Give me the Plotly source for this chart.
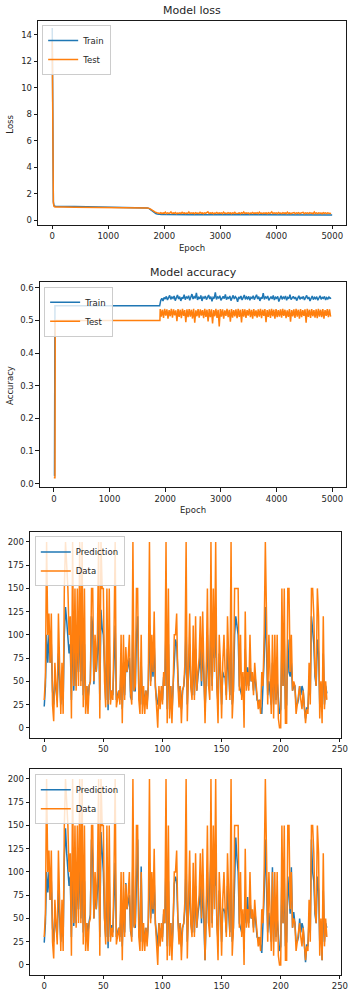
import plotly.graph_objects as go

# ---------------- data ----------------
# Model loss (coarse readings before the noisy plateau)
loss_train_epochs = [0, 5, 10, 15, 20, 30, 40, 60, 100, 200, 400, 600, 800, 1000, 1200, 1400, 1500,
                     1600, 1650, 1700, 1725, 1750, 1775, 1800, 1825, 1850, 1875, 1900, 1950, 2000,
                     2100, 2200, 2500, 3000, 3500, 4000, 4500, 4999]
loss_train = [14.5, 9.0, 4.5, 2.2, 1.4, 1.1, 1.05, 1.04, 1.03, 1.02, 1.02, 1.01, 1.0, 1.0, 0.99, 0.98, 0.97,
              0.96, 0.95, 0.92, 0.88, 0.80, 0.70, 0.60, 0.53, 0.49, 0.46, 0.44, 0.43, 0.42,
              0.41, 0.41, 0.40, 0.40, 0.40, 0.39, 0.39, 0.39]

loss_test_head_epochs = [0, 5, 10, 15, 20, 30, 40, 60, 100, 200, 400, 600, 800, 1000, 1200, 1400,
                         1500, 1600, 1650, 1700, 1750, 1800, 1840, 1870, 1885]
loss_test_head = [13.5, 8.0, 4.0, 2.0, 1.3, 1.05, 1.0, 0.99, 0.98, 0.98, 0.97, 0.97, 0.97, 0.96, 0.96, 0.96,
                  0.95, 0.95, 0.94, 0.92, 0.85, 0.70, 0.60, 0.56, 0.54]
loss_test_noise = [0.53, 0.50, 0.56, 0.49, 0.54, 0.51, 0.60, 0.48, 0.55, 0.50,
                   0.53, 0.62, 0.49, 0.54, 0.51, 0.57, 0.48, 0.53, 0.50, 0.55,
                   0.49, 0.58, 0.51, 0.54, 0.48, 0.53, 0.50, 0.61, 0.49, 0.55,
                   0.51, 0.54, 0.48, 0.56, 0.50, 0.53, 0.49, 0.59, 0.51, 0.54,
                   0.48, 0.55, 0.50, 0.53, 0.62, 0.49, 0.54, 0.51, 0.56, 0.48,
                   0.53, 0.50, 0.57, 0.49, 0.54, 0.51, 0.55, 0.48, 0.60, 0.50,
                   0.53, 0.49, 0.56, 0.51, 0.54, 0.48, 0.55, 0.50, 0.58, 0.49,
                   0.53, 0.51, 0.54, 0.48, 0.56, 0.50, 0.61, 0.49, 0.54, 0.51,
                   0.55, 0.48, 0.53, 0.50, 0.57, 0.49, 0.54, 0.51, 0.56, 0.48,
                   0.59, 0.50, 0.53, 0.49, 0.55, 0.51, 0.54, 0.48, 0.56, 0.50,
                   0.53, 0.62, 0.49, 0.54, 0.51, 0.55, 0.48, 0.57, 0.50, 0.53,
                   0.49, 0.56, 0.51, 0.54, 0.48, 0.60, 0.50, 0.55, 0.49, 0.53,
                   0.51, 0.57, 0.48, 0.54, 0.50, 0.56, 0.49, 0.53, 0.51, 0.58,
                   0.48, 0.55, 0.50, 0.54, 0.49, 0.56, 0.51, 0.53, 0.48, 0.61,
                   0.50, 0.54, 0.49, 0.55, 0.51, 0.53, 0.48, 0.56, 0.50, 0.54,
                   0.49, 0.55, 0.51, 0.53, 0.50]
loss_test_noise_epochs = list(range(1900, 1900 + 20 * len(loss_test_noise), 20))

# Model accuracy
acc_train_head_epochs = [0, 12, 20, 1000, 1900]
acc_train_head = [0.025, 0.025, 0.545, 0.545, 0.545]
acc_train_noise = [0.562, 0.568, 0.560, 0.571, 0.566, 0.574, 0.563, 0.570, 0.577, 0.565,
                   0.572, 0.568, 0.575, 0.561, 0.569, 0.578, 0.566, 0.573, 0.560, 0.571,
                   0.567, 0.579, 0.564, 0.572, 0.569, 0.576, 0.562, 0.570, 0.581, 0.566,
                   0.573, 0.568, 0.585, 0.563, 0.571, 0.567, 0.577, 0.560, 0.572, 0.569,
                   0.575, 0.564, 0.570, 0.578, 0.566, 0.573, 0.559, 0.571, 0.568, 0.586,
                   0.565, 0.572, 0.569, 0.576, 0.562, 0.570, 0.574, 0.567, 0.580, 0.564,
                   0.571, 0.568, 0.575, 0.561, 0.570, 0.577, 0.566, 0.573, 0.569, 0.557,
                   0.572, 0.568, 0.575, 0.563, 0.570, 0.578, 0.565, 0.572, 0.567, 0.574,
                   0.562, 0.571, 0.568, 0.576, 0.564, 0.570, 0.579, 0.566, 0.573, 0.560,
                   0.571, 0.567, 0.584, 0.565, 0.572, 0.569, 0.575, 0.562, 0.570, 0.573,
                   0.566, 0.577, 0.563, 0.571, 0.568, 0.574, 0.558, 0.570, 0.576, 0.565,
                   0.572, 0.568, 0.575, 0.562, 0.571, 0.567, 0.579, 0.564, 0.570, 0.574,
                   0.566, 0.572, 0.561, 0.569, 0.576, 0.565, 0.571, 0.568, 0.574, 0.563,
                   0.570, 0.577, 0.566, 0.572, 0.560, 0.569, 0.575, 0.564, 0.571, 0.567,
                   0.573, 0.562, 0.570, 0.576, 0.565, 0.571, 0.568, 0.574, 0.563, 0.570,
                   0.566, 0.572, 0.568, 0.569]
acc_train_noise_epochs = list(range(1920, 1920 + 20 * len(acc_train_noise), 20))

acc_test_head_epochs = [0, 20, 25, 1000, 1905]
acc_test_head = [0.018, 0.018, 0.5, 0.5, 0.5]
acc_test_noise = [0.535, 0.512, 0.533, 0.508, 0.536, 0.515, 0.534, 0.506, 0.532, 0.513,
                  0.536, 0.509, 0.534, 0.516, 0.531, 0.498, 0.535, 0.511, 0.533, 0.507,
                  0.536, 0.514, 0.532, 0.495, 0.534, 0.510, 0.535, 0.512, 0.533, 0.506,
                  0.536, 0.493, 0.531, 0.513, 0.535, 0.509, 0.534, 0.515, 0.532, 0.507,
                  0.536, 0.511, 0.533, 0.497, 0.535, 0.510, 0.534, 0.491, 0.532, 0.513,
                  0.536, 0.508, 0.533, 0.482, 0.535, 0.512, 0.534, 0.506, 0.531, 0.514,
                  0.536, 0.510, 0.533, 0.496, 0.535, 0.509, 0.532, 0.513, 0.534, 0.507,
                  0.536, 0.511, 0.533, 0.494, 0.535, 0.512, 0.534, 0.508, 0.532, 0.515,
                  0.536, 0.510, 0.533, 0.506, 0.535, 0.513, 0.531, 0.509, 0.534, 0.512,
                  0.536, 0.507, 0.533, 0.514, 0.535, 0.495, 0.532, 0.511, 0.534, 0.508,
                  0.536, 0.513, 0.533, 0.506, 0.535, 0.510, 0.532, 0.512, 0.534, 0.509,
                  0.536, 0.514, 0.533, 0.507, 0.531, 0.511, 0.535, 0.496, 0.532, 0.513,
                  0.534, 0.508, 0.536, 0.512, 0.533, 0.506, 0.535, 0.510, 0.532, 0.514,
                  0.534, 0.493, 0.536, 0.511, 0.533, 0.508, 0.535, 0.513, 0.532, 0.509,
                  0.534, 0.507, 0.536, 0.512, 0.533, 0.510, 0.535, 0.506, 0.532, 0.514,
                  0.535, 0.510, 0.534, 0.512]
acc_test_noise_epochs = list(range(1910, 1910 + 20 * len(acc_test_noise), 20))

# Prediction vs data (240 samples)
data_values = [30, 55, 200, 100, 123, 70, 123, 25, 7, 70, 45, 22, 123, 50, 15, 70, 15, 150, 200, 175,
               150, 100, 120, 10, 200, 45, 150, 40, 150, 45, 200, 45, 200, 22, 150, 15, 45, 15, 45, 50,
               150, 150, 50, 100, 60, 100, 200, 10, 200, 150, 150, 50, 22, 150, 25, 150, 25, 40, 30, 100,
               200, 22, 30, 40, 25, 100, 5, 100, 30, 87, 60, 75, 100, 40, 25, 200, 40, 45, 150, 150,
               30, 15, 100, 15, 45, 15, 40, 20, 45, 200, 45, 100, 60, 125, 45, 25, 0, 45, 20, 45,
               25, 60, 45, 200, 5, 150, 10, 45, 5, 45, 100, 100, 123, 50, 22, 45, 5, 40, 45, 70,
               200, 7, 60, 123, 45, 30, 110, 30, 120, 40, 60, 75, 120, 50, 125, 60, 5, 60, 150, 45,
               30, 200, 40, 150, 60, 200, 45, 5, 100, 70, 10, 70, 100, 60, 30, 120, 60, 30, 200, 10,
               40, 150, 150, 150, 150, 40, 100, 30, 60, 0, 125, 40, 60, 40, 100, 50, 60, 35, 70, 50,
               30, 20, 30, 15, 60, 45, 100, 200, 120, 25, 100, 40, 15, 100, 10, 100, 25, 100, 10, 0,
               0, 150, 45, 150, 5, 5, 150, 150, 60, 100, 40, 50, 45, 15, 25, 30, 45, 30, 20, 40,
               22, 5, 20, 15, 70, 25, 150, 150, 120, 60, 45, 150, 120, 10, 50, 5, 120, 20, 50, 30]
prediction_1 = [23, 45, 100, 70, 100, 70, 90, 40, 25, 55, 40, 30, 80, 45, 25, 50, 30, 100, 130, 115,
                95, 80, 90, 30, 120, 40, 90, 45, 100, 60, 120, 50, 115, 35, 90, 30, 45, 30, 45, 50,
                120, 110, 47, 80, 60, 80, 120, 30, 127, 107, 100, 50, 30, 100, 19, 90, 30, 40, 35, 70,
                110, 30, 35, 40, 30, 70, 20, 70, 35, 70, 60, 68, 75, 33, 30, 120, 40, 40, 100, 120,
                40, 25, 70, 25, 40, 25, 40, 25, 45, 110, 50, 75, 55, 90, 45, 30, 25, 40, 25, 40,
                30, 55, 45, 110, 20, 90, 20, 45, 15, 45, 80, 95, 90, 50, 30, 45, 20, 40, 45, 60,
                110, 25, 55, 90, 45, 35, 80, 35, 85, 40, 55, 65, 85, 45, 90, 55, 20, 50, 100, 45,
                60, 120, 45, 100, 75, 110, 45, 25, 80, 60, 25, 60, 55, 55, 35, 85, 55, 35, 110, 25,
                40, 100, 120, 110, 100, 45, 40, 35, 55, 25, 85, 45, 65, 45, 70, 50, 55, 40, 60, 45,
                30, 28, 30, 20, 15, 45, 75, 130, 90, 35, 50, 40, 25, 70, 25, 70, 30, 50, 25, 15,
                20, 95, 45, 95, 20, 25, 95, 60, 55, 70, 40, 45, 45, 25, 25, 30, 45, 35, 45, 40,
                22, 10, 22, 20, 50, 35, 120, 100, 90, 55, 45, 95, 80, 25, 45, 20, 80, 25, 45, 37]
prediction_2 = [24, 45, 100, 78, 100, 70, 90, 40, 25, 55, 40, 30, 80, 45, 25, 50, 30, 115, 147, 120,
                106, 85, 95, 30, 120, 42, 90, 45, 100, 60, 120, 50, 115, 35, 90, 30, 45, 35, 47, 54,
                135, 115, 50, 80, 60, 80, 120, 30, 143, 120, 100, 50, 30, 100, 18, 90, 30, 43, 35, 70,
                110, 30, 35, 40, 30, 70, 20, 70, 35, 88, 60, 68, 75, 36, 30, 120, 42, 40, 100, 135,
                40, 25, 106, 25, 40, 25, 40, 25, 45, 110, 50, 75, 55, 90, 45, 30, 20, 45, 25, 40,
                30, 55, 45, 110, 20, 90, 20, 45, 15, 45, 87, 95, 90, 51, 30, 45, 20, 40, 45, 60,
                110, 25, 55, 90, 45, 35, 80, 35, 85, 40, 55, 65, 85, 45, 90, 55, 5, 55, 100, 45,
                85, 120, 45, 100, 85, 110, 45, 25, 80, 60, 25, 60, 60, 55, 35, 85, 55, 35, 110, 25,
                40, 100, 137, 115, 100, 45, 40, 35, 55, 25, 73, 45, 73, 45, 70, 50, 55, 40, 60, 45,
                30, 28, 30, 20, 13, 45, 75, 135, 90, 35, 56, 40, 25, 105, 25, 70, 30, 50, 25, 15,
                20, 95, 45, 95, 20, 25, 95, 66, 55, 105, 40, 57, 45, 25, 25, 30, 50, 35, 45, 40,
                22, 3, 22, 20, 50, 35, 135, 100, 90, 55, 45, 95, 80, 25, 45, 5, 80, 25, 45, 40]
sample_index = list(range(len(data_values)))

# ---------------- styling ----------------
BLUE = "#1f77b4"
ORANGE = "#ff7f0e"
FONT = "DejaVu Sans"
TEXT = "#262626"
W, H = 361, 1000


def xd(a, b):
    return [a / W, b / W]


def yd(top, bottom):
    return [1 - bottom / H, 1 - top / H]


fig = go.Figure()

# loss
fig.add_trace(go.Scatter(x=loss_train_epochs, y=loss_train, mode="lines", name="Train",
                         line=dict(color=BLUE, width=1.5), xaxis="x", yaxis="y", legend="legend"))
fig.add_trace(go.Scatter(x=loss_test_head_epochs + loss_test_noise_epochs, y=loss_test_head + loss_test_noise,
                         mode="lines", name="Test", line=dict(color=ORANGE, width=1.5),
                         xaxis="x", yaxis="y", legend="legend"))
# accuracy
fig.add_trace(go.Scatter(x=acc_train_head_epochs + acc_train_noise_epochs, y=acc_train_head + acc_train_noise,
                         mode="lines", name="Train", line=dict(color=BLUE, width=1.5),
                         xaxis="x2", yaxis="y2", legend="legend2"))
fig.add_trace(go.Scatter(x=acc_test_head_epochs + acc_test_noise_epochs, y=acc_test_head + acc_test_noise,
                         mode="lines", name="Test", line=dict(color=ORANGE, width=1.5),
                         xaxis="x2", yaxis="y2", legend="legend2"))
# prediction 1
fig.add_trace(go.Scatter(x=sample_index, y=prediction_1, mode="lines", name="Prediction",
                         line=dict(color=BLUE, width=1.5), xaxis="x3", yaxis="y3", legend="legend3"))
fig.add_trace(go.Scatter(x=sample_index, y=data_values, mode="lines", name="Data",
                         line=dict(color=ORANGE, width=1.5), xaxis="x3", yaxis="y3", legend="legend3"))
# prediction 2
fig.add_trace(go.Scatter(x=sample_index, y=prediction_2, mode="lines", name="Prediction",
                         line=dict(color=BLUE, width=1.5), xaxis="x4", yaxis="y4", legend="legend4"))
fig.add_trace(go.Scatter(x=sample_index, y=data_values, mode="lines", name="Data",
                         line=dict(color=ORANGE, width=1.5), xaxis="x4", yaxis="y4", legend="legend4"))

axis_common = dict(showline=True, mirror=True, linecolor="#1a1a1a", linewidth=1, ticks="outside",
                   ticklen=3.5, tickwidth=1, tickcolor="#1a1a1a", showgrid=False, zeroline=False,
                   tickfont=dict(family=FONT, size=8.5, color=TEXT))

legend_common = dict(bgcolor="rgba(255,255,255,0.8)", bordercolor="#cccccc", borderwidth=1,
                     font=dict(family=FONT, size=8.5, color=TEXT), xanchor="left", yanchor="top",
                     itemwidth=30, tracegroupgap=0)

fig.update_layout(
    width=W, height=H, margin=dict(l=0, r=0, t=0, b=0),
    paper_bgcolor="white", plot_bgcolor="white", showlegend=True,
    xaxis=dict(domain=xd(39, 353), range=[-250, 5249], tickvals=[0, 1000, 2000, 3000, 4000, 5000],
               anchor="y", **axis_common),
    yaxis=dict(domain=yd(21, 225), range=[-0.355, 15.03], tickvals=[0, 2, 4, 6, 8, 10, 12, 14],
               anchor="x", **axis_common),
    xaxis2=dict(domain=xd(40.7, 353), range=[-250, 5249], tickvals=[0, 1000, 2000, 3000, 4000, 5000],
                anchor="y2", **axis_common),
    yaxis2=dict(domain=yd(282.3, 487.7), range=[-0.0113, 0.618], tickvals=[0, 0.1, 0.2, 0.3, 0.4, 0.5, 0.6],
                tickformat=".1f", anchor="x2", **axis_common),
    xaxis3=dict(domain=xd(30.7, 347.7), range=[-11.95, 250.95], tickvals=[0, 50, 100, 150, 200, 250],
                anchor="y3", **axis_common),
    yaxis3=dict(domain=yd(532.7, 738.3), range=[-10.5, 210.5], tickvals=[0, 25, 50, 75, 100, 125, 150, 175, 200],
                anchor="x3", **axis_common),
    xaxis4=dict(domain=xd(30.7, 347.7), range=[-11.95, 250.95], tickvals=[0, 50, 100, 150, 200, 250],
                anchor="y4", **axis_common),
    yaxis4=dict(domain=yd(770, 975.7), range=[-10.5, 210.5], tickvals=[0, 25, 50, 75, 100, 125, 150, 175, 200],
                anchor="x4", **axis_common),
    legend=dict(x=43 / W, y=1 - 25 / H, **legend_common),
    legend2=dict(x=45 / W, y=1 - 287 / H, **legend_common),
    legend3=dict(x=35.5 / W, y=1 - 537 / H, **legend_common),
    legend4=dict(x=35.5 / W, y=1 - 775 / H, **legend_common),
)

ann_font = dict(family=FONT, size=8.5, color=TEXT)
title_font = dict(family=FONT, size=11, color=TEXT)
annotations = [
    dict(text="Model loss", x=196 / W, y=1 - 11 / H, font=title_font),
    dict(text="Epoch", x=196 / W, y=1 - 248 / H, font=ann_font),
    dict(text="Loss", x=10 / W, y=1 - 124 / H, font=ann_font, textangle=-90),
    dict(text="Model accuracy", x=197 / W, y=1 - 273 / H, font=title_font),
    dict(text="Epoch", x=197 / W, y=1 - 511 / H, font=ann_font),
    dict(text="Accuracy", x=9.5 / W, y=1 - 386 / H, font=ann_font, textangle=-90),
]
for a in annotations:
    a.update(xref="paper", yref="paper", showarrow=False, xanchor="center", yanchor="middle")
fig.update_layout(annotations=annotations)

# remove the default page margin so the 361x1000 figure fills the window exactly
fig.write_html("out.html", config={"displayModeBar": False},
               post_script="document.body.style.margin='0';document.body.style.overflow='hidden';")
